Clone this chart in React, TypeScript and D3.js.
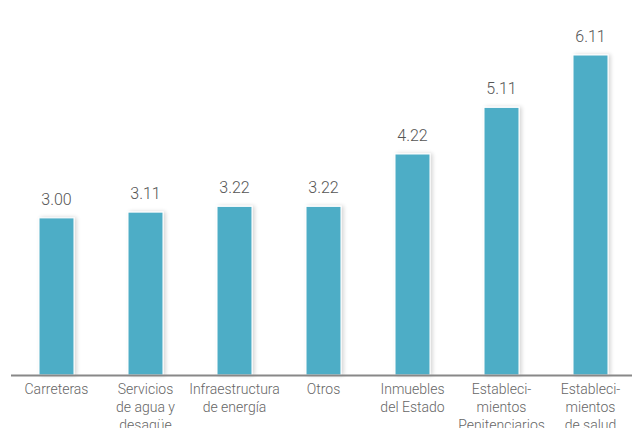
import React from "react";
import * as d3 from "d3";

const categories: string[][] = [
  ["Carreteras"],
  ["Servicios", "de agua y", "desagüe"],
  ["Infraestructura", "de energía"],
  ["Otros"],
  ["Inmuebles", "del Estado"],
  ["Estableci-", "mientos", "Penitenciarios"],
  ["Estableci-", "mientos", "de salud"],
];
const values: number[] = [3.0, 3.11, 3.22, 3.22, 4.22, 5.11, 6.11];

const W = 632;
const H = 428;
const baseline = 375;
const FONT = "Roboto, 'Liberation Sans', Arial, sans-serif";

export default function App() {
  const keys = categories.map((_, i) => String(i));
  const x = d3.scaleBand<string>().domain(keys).range([12, 635]).paddingInner(0.607).paddingOuter(0.3035);
  const y = d3.scaleLinear().domain([0, 6.11]).range([baseline, 55]);
  const bw = x.bandwidth();
  return (
    <svg width={W} height={H} style={{ position: "absolute", left: 0, top: 0 }}>
      <defs>
        <filter id="sh" x="-30%" y="-10%" width="160%" height="120%">
          <feGaussianBlur in="SourceAlpha" stdDeviation="2" />
          <feOffset dx="2" dy="0" result="b" />
          <feComponentTransfer>
            <feFuncA type="linear" slope="0.18" />
          </feComponentTransfer>
          <feMerge>
            <feMergeNode />
            <feMergeNode in="SourceGraphic" />
          </feMerge>
        </filter>
      </defs>
      <rect width={W} height={H} fill="#fff" />
      {values.map((v, i) => {
        const k = keys[i];
        const x0 = x(k)!;
        return (
          <g key={k}>
            <rect
              x={x0}
              y={y(v)}
              width={bw}
              height={baseline - y(v)}
              fill="#4EADC6"
              stroke="#fff"
              strokeWidth={1}
              filter="url(#sh)"
            />
            <text
              x={x0 + bw / 2}
              y={y(v) - 13}
              textAnchor="middle"
              fontFamily={FONT}
              fontWeight={300}
              fontSize={16}
              fill="#555"
            >
              {d3.format(".2f")(v)}
            </text>
            {categories[i].map((line, j) => (
              <text
                key={j}
                x={x0 + bw / 2}
                y={394 + j * 18}
                textAnchor="middle"
                fontFamily={FONT}
                fontWeight={300}
                fontSize={14}
                fill="#666"
              >
                {line}
              </text>
            ))}
          </g>
        );
      })}
      <line x1={11} x2={632} y1={baseline + 0.5} y2={baseline + 0.5} stroke="#888" strokeWidth={2} />
    </svg>
  );
}
